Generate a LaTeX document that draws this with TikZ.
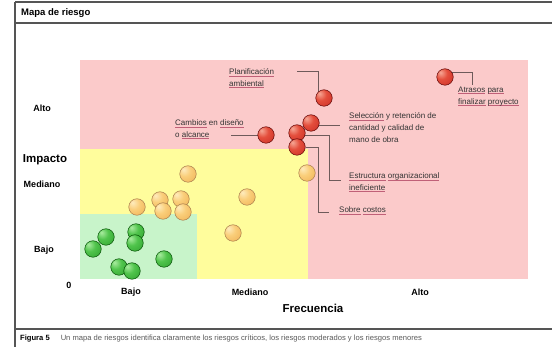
\documentclass[tikz,border=0pt]{standalone}
\usepackage{fontspec}
\setmainfont{Liberation Sans}
\usetikzlibrary{backgrounds,calc}
\definecolor{pinkz}{HTML}{FBCACA}
\definecolor{yellowz}{HTML}{FFFD9C}
\definecolor{greenz}{HTML}{C8F4CA}
\definecolor{ulc}{HTML}{C06078}
\definecolor{linec}{HTML}{6E5A5A}
\definecolor{framec}{HTML}{555555}
\pgfdeclareradialshading{redshade}{\pgfpoint{-14bp}{14bp}}{%
  color(0bp)=(rgb,255:red,246;green,168;blue,150);
  color(18bp)=(rgb,255:red,228;green,78;blue,60);
  color(42bp)=(rgb,255:red,204;green,48;blue,40);
  color(62bp)=(rgb,255:red,160;green,30;blue,28);
  color(80bp)=(rgb,255:red,150;green,28;blue,26)}
\pgfdeclareradialshading{orshade}{\pgfpoint{-14bp}{14bp}}{%
  color(0bp)=(rgb,255:red,254;green,236;blue,190);
  color(18bp)=(rgb,255:red,250;green,206;blue,122);
  color(42bp)=(rgb,255:red,240;green,180;blue,88);
  color(62bp)=(rgb,255:red,205;green,145;blue,60);
  color(80bp)=(rgb,255:red,190;green,135;blue,55)}
\pgfdeclareradialshading{grshade}{\pgfpoint{-14bp}{14bp}}{%
  color(0bp)=(rgb,255:red,170;green,236;blue,160);
  color(18bp)=(rgb,255:red,80;green,196;blue,76);
  color(42bp)=(rgb,255:red,50;green,165;blue,50);
  color(62bp)=(rgb,255:red,30;green,120;blue,32);
  color(80bp)=(rgb,255:red,28;green,110;blue,30)}
\newlength\rlw
\newcommand\rl[1]{\settowidth\rlw{#1}\rlap{\textcolor{ulc}{\rule[-1.6pt]{\rlw}{0.5pt}}}#1}
\begin{document}
\begin{tikzpicture}[x=1pt,y=-1pt,
  ball/.style={circle,inner sep=0pt,minimum size=16.5pt,line width=0.5pt},
  redball/.style={ball,shading=redshade,draw=black!40!red!60!black},
  orball/.style={ball,shading=orshade,draw=orange!50!black!70},
  grball/.style={ball,shading=grshade,draw=green!30!black},
  lbl/.style={font=\fontsize{8}{11.8}\selectfont,text=black!80,align=left,anchor=north west,inner sep=0pt},
  axl/.style={font=\fontsize{9}{10}\selectfont\bfseries,inner sep=0pt},
  big/.style={font=\fontsize{11.5}{13}\selectfont\bfseries,inner sep=0pt},
  conn/.style={draw=linec,line width=0.8pt},
  frame/.style={draw=framec,line width=1.3pt}]
\useasboundingbox (0,0) rectangle (552,347);

% zones
\begin{scope}[on background layer]
  \fill[pinkz] (80,60) rectangle (528,279);
  \fill[yellowz] (80,149) rectangle (308,279);
  \fill[greenz] (80,214) rectangle (197,279);
\end{scope}

% frame
\draw[frame] (15,2) -- (560,2);
\draw[frame] (15,23) -- (560,23);
\draw[frame] (15,329) -- (560,329);
\draw[frame] (15,2) -- (15,350);

% title and caption
\node[font=\fontsize{9.5}{11}\selectfont\bfseries,anchor=west,inner sep=0pt] (title) at (21,13) {Mapa de riesgo};
\node[anchor=west,inner sep=0pt,font=\fontsize{7.6}{8}\selectfont] (caption) at (20,339)
  {\textbf{Figura 5}\hspace{11pt}{\color{black!65}Un mapa de riesgos identifica claramente los riesgos críticos, los riesgos moderados y los riesgos menores}};

% axis labels
\node[axl] (yalto) at (42,108) {Alto};
\node[big] (impacto) at (45,160) {Impacto};
\node[axl] (ymed) at (42,184) {Mediano};
\node[axl] (ybajo) at (44,250) {Bajo};
\node[axl] (zero) at (69,285) {0};
\node[axl] (xbajo) at (131,292) {Bajo};
\node[axl] (xmed) at (250,292) {Mediano};
\node[axl] (xalto) at (420,292) {Alto};
\node[big] (frec) at (313,308) {Frecuencia};

% labels
\node[lbl] (lplan) at (229,68.5) {\rl{Planificación}\\\rl{ambiental}};
\node[lbl] (latr) at (458,86.5) {\rl{Atrasos} \rl{para}\\\rl{finalizar} \rl{proyecto}};
\node[lbl] (lcam) at (175,119.5) {\rl{Cambios} en \rl{diseño}\\o \rl{alcance}};
\node[lbl] (lsel) at (349,112.5) {\rl{Selección} y retención de\\cantidad y calidad de\\mano de obra};
\node[lbl] (lest) at (349,172.5) {\rl{Estructura} \rl{organizacional}\\\rl{ineficiente}};
\node[lbl] (lsob) at (339,206.5) {\rl{Sobre} \rl{costos}};

% orange balls
\node[orball] (o1) at (307,173) {};
\node[orball] (o2) at (188,174) {};
\node[orball] (o3) at (247,197) {};
\node[orball] (o4) at (137,207) {};
\node[orball] (o5) at (160,200) {};
\node[orball] (o7) at (181,199) {};
\node[orball] (o6) at (163,211) {};
\node[orball] (o8) at (183,212) {};
\node[orball] (o9) at (233,233) {};

% green balls
\node[grball] (g1) at (106,237) {};
\node[grball] (g2) at (136,232) {};
\node[grball] (g3) at (135,243) {};
\node[grball] (g4) at (93,249) {};
\node[grball] (g5) at (164,259) {};
\node[grball] (g6) at (119,267) {};
\node[grball] (g7) at (132,271) {};

% red balls
\node[redball] (r1) at (324,98) {};
\node[redball] (r2) at (445,77) {};
\node[redball] (r3) at (266,135) {};
\node[redball] (r4) at (311,123) {};
\node[redball] (r5) at (297,133) {};
\node[redball] (r6) at (297,147) {};

% connector ends
\coordinate (c1) at (297,71);
\coordinate (c2) at (472,85);
\coordinate (c3) at (231,135);
\coordinate (c4) at (340,125);
\coordinate (c5a) at (329,180);
\coordinate (c5) at (341,180);
\coordinate (c6a) at (318,212);
\coordinate (c6) at (329,212);

\begin{scope}[on background layer]
  \draw[conn] (c1) -| ($(r1)+(-6,0)$);
  \draw[conn] ($(r2)+(0,-5)$) -| (c2);
  \draw[conn] (c3) -- (r3);
  \draw[conn] ($(r4)+(0,2)$) -- (c4);
  \draw[conn] ($(r5)+(0,2)$) -| (c5a) -- (c5);
  \draw[conn] (r6) -| (c6a) -- (c6);
\end{scope}
\end{tikzpicture}
\end{document}
